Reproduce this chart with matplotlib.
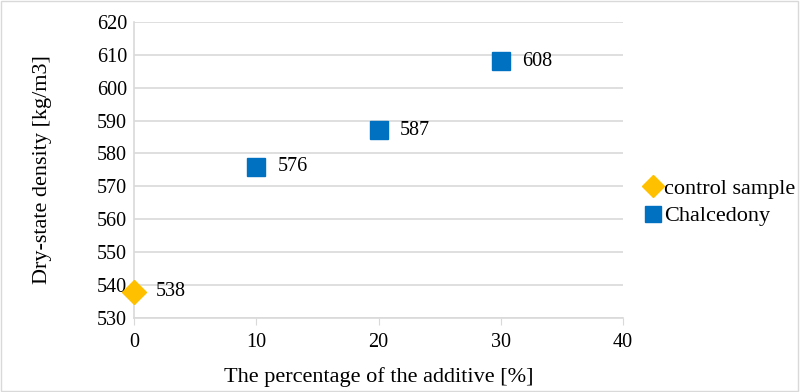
import matplotlib.pyplot as plt
from matplotlib.patches import Rectangle

plt.rcParams['font.family'] = ['Liberation Serif', 'DejaVu Serif']

# dry-state density for each additive share
control_x = [0]
control_y = [538]
chalcedony_x = [10, 20, 30]
chalcedony_y = [576, 587, 608]

grid_color = '#d9d9d9'

fig = plt.figure(figsize=(8, 3.92), dpi=100)
ax = fig.add_axes([0.1675, 0.189, 0.6113, 0.755])

ax.plot(control_x, control_y, linestyle='none', marker='D', markersize=12.5,
        color='#ffc000', label='control sample', zorder=3, clip_on=False)
ax.plot(chalcedony_x, chalcedony_y, linestyle='none', marker='s', markersize=13,
        color='#0070c0', label='Chalcedony', zorder=3, clip_on=False)

for x, y in zip(control_x + chalcedony_x, control_y + chalcedony_y):
    ax.annotate(str(y), (x, y), xytext=(15.5, 0), textcoords='offset points',
                va='center', ha='left', fontsize=14.5)

ax.set_xlim(0, 40)
ax.set_ylim(530, 620)
ax.set_xticks(range(0, 41, 10))
ax.set_yticks(range(530, 621, 10))
ax.grid(axis='y', color=grid_color, linewidth=1.2)
ax.set_axisbelow(True)

for side in ['top', 'right']:
    ax.spines[side].set_visible(False)
ax.spines['left'].set_color(grid_color)
ax.spines['bottom'].set_color(grid_color)
ax.spines['left'].set_linewidth(1.2)
ax.spines['bottom'].set_linewidth(1.2)
ax.tick_params(axis='y', length=0, labelsize=14.5, pad=5)
ax.tick_params(axis='x', length=5, color=grid_color, labelsize=14.5, pad=6)

ax.set_xlabel('The percentage of the additive [%]', fontsize=16, labelpad=11)
ax.set_ylabel('Dry-state density [kg/m3]', fontsize=16, labelpad=32)

ax.legend(loc='center left', bbox_to_anchor=(1.02, 0.39), frameon=False,
          fontsize=16, handletextpad=0.0, handlelength=1.0, markerscale=0.9,
          labelspacing=0.3, borderaxespad=0)

# thin frame round the whole chart
fig.patches.append(Rectangle((0.001, 0.002), 0.997, 0.995, transform=fig.transFigure,
                             fill=False, edgecolor=grid_color, linewidth=1))

fig.savefig('out.png', dpi=100)
